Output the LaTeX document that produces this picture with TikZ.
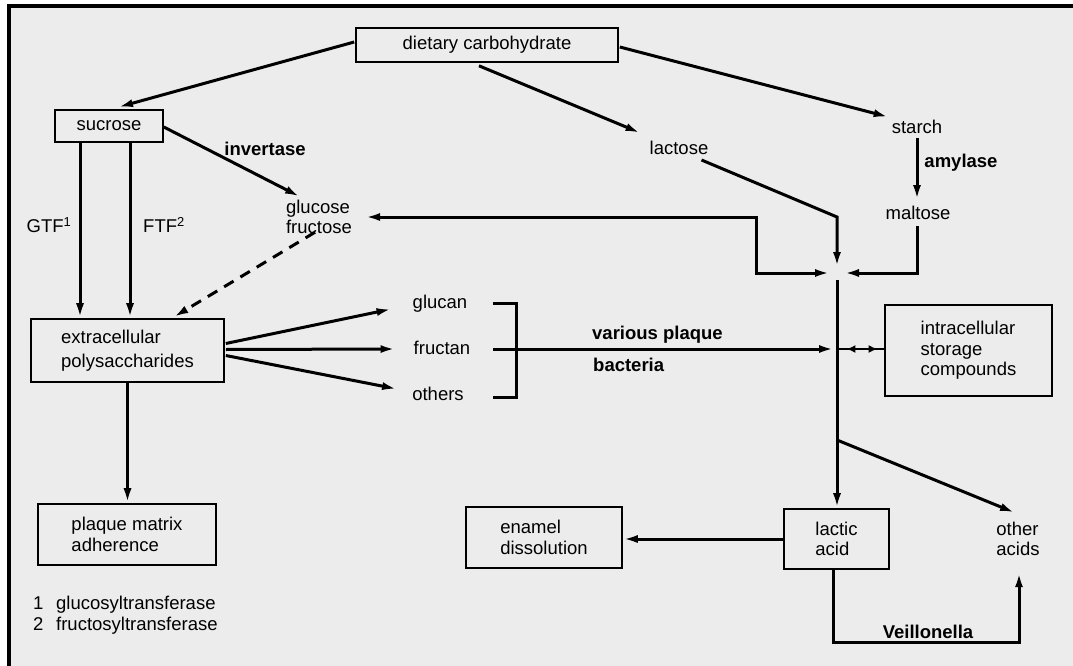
\documentclass[tikz,border=0pt]{standalone}
\usepackage{fontspec}
\setmainfont{Liberation Sans}
\usetikzlibrary{arrows.meta,calc,decorations.markings}
\definecolor{paper}{HTML}{ECECEC}
\begin{document}
\begin{tikzpicture}[x=1pt,y=-1pt,
  every node/.style={font=\fontsize{18.5}{20.5}\selectfont},
  box/.style={draw, line width=1.6pt, align=left, inner sep=0pt},
  lbl/.style={inner sep=1pt, align=left},
  enz/.style={inner sep=1pt, font=\fontsize{18.5}{20.5}\selectfont\bfseries},
  arr/.style={line width=3pt, -{Latex[length=15pt,width=8pt]}},
  arrtwo/.style={line width=3pt, {Latex[length=15pt,width=8pt]}-{Latex[length=15pt,width=8pt]}},
  brk/.style={line width=3pt, line join=miter},
  rev/.style={line width=2.6pt, postaction={decorate}, decoration={markings,
    mark=at position 0.20 with {\arrowreversed{Latex[length=9pt,width=8pt]}},
    mark=at position 0.86 with {\arrow{Latex[length=9pt,width=8pt]}}}}]

% sheet and frame
\useasboundingbox (0,0) rectangle (1073,666);
\fill[white] (0,0) rectangle (1073,666);
\fill[paper] (9,6) rectangle (1073,666);
\draw[line width=3.2pt] (9,666) -- (9,6) -- (1073,6);

% nodes
\node[box, minimum width=262pt, minimum height=34pt] (diet) at (487,45) {dietary carbohydrate};
\node[box, minimum width=108pt, minimum height=32pt] (sucrose) at (109,126) {sucrose};
\node[lbl] (lactose) at (679,148) {lactose};
\node[lbl] (starch) at (917,127) {starch};
\node[lbl] (maltose) at (918,213) {maltose};
\node[lbl] (glucose) at (319,217) {glucose\\fructose};
\node[enz] (invertase) at (265,149) {invertase};
\node[enz] (amylase) at (961,163) {amylase};
\node[lbl] (gtf) at (49,225) {GTF\textsuperscript{1}};
\node[lbl] (ftf) at (164,225) {FTF\textsuperscript{2}};
\node[box, minimum width=193pt, minimum height=63pt] (ep) at (127.5,350.5) {extracellular\\[3pt]polysaccharides};
\node[lbl] (glucan) at (440,304) {glucan};
\node[lbl] (fructan) at (442,348) {fructan};
\node[lbl] (others) at (438,394) {others};
\node[enz, anchor=west] (various) at (591,335) {various plaque};
\node[enz, anchor=west] (bacteria) at (592,365) {bacteria};
\node[box, minimum width=167pt, minimum height=91pt] (isc) at (968.5,350.5) {intracellular\\storage\\compounds};
\node[box, minimum width=178pt, minimum height=61pt] (plaque) at (127,534.5) {plaque matrix\\adherence};
\node[box, minimum width=156pt, minimum height=61pt] (enamel) at (544,537.5) {enamel\\dissolution};
\node[box, minimum width=105pt, minimum height=60pt] (lactic) at (836.5,539) {lactic\\acid};
\node[lbl] (otheracids) at (1018,539) {other\\acids};
\node[enz] (veillonella) at (928,632) {Veillonella};
\node[lbl, anchor=west] (notes) at (32,615) {\makebox[23pt][l]{1}glucosyltransferase\\\makebox[23pt][l]{2}fructosyltransferase};

% junction points
\coordinate (J) at (837,273);
\coordinate (F) at (837,349);
\coordinate (B) at (837,440);
\coordinate (gbend) at (756,273);
\coordinate (gx) at (80,0);
\coordinate (fx) at (130,0);
\coordinate (V1) at (833,642);
\coordinate (V2) at (1019,642);

% dietary carbohydrate splits
\draw[arr] ($(diet.west)+(-1,-3)$) -- ($(sucrose.north)+(9,-2)$);
\draw[arr] ($(diet.south)+(-8,3)$) -- ($(lactose.north west)+(-8,-7)$);
\draw[arr] ($(diet.east)+(1,2)$) -- ($(starch.north west)+(-2,-2)$);

% sucrose pathways
\draw[arr] (sucrose.south -| gx) -- (ep.north -| gx);
\draw[arr] (sucrose.south -| fx) -- (ep.north -| fx);
\draw[arr] ($(sucrose.east)+(0,1)$) -- ($(glucose.north)+(-19,-2)$);
\draw[arr, dash pattern=on 11pt off 8pt] ($(glucose.south)+(-4,-3)$) -- ($(ep.north)+(46,-1)$);

% starch and lactose to the junction
\draw[arr] ($(starch.south)+(0,3)$) -- ($(starch.south |- maltose.north)+(0,-5)$);
\draw[arr] ($(starch.south |- maltose.south)+(0,5)$) -- (starch.south |- J) -- ($(J)+(7,0)$);
\draw[arr] ($(lactose.south east)+(-8,4)$) -- ($(J)+(0,-56)$) -- ($(J)+(0,-6)$);
\draw[arrtwo] ($(glucose.east)+(12,0)$) -- (gbend |- glucose.east) -- (gbend) -- ($(J)+(-7,0)$);

% polysaccharides
\draw[arr] ($(ep.east)+(1,-7)$) -- ($(glucan.west)+(-20,5)$);
\draw[arr] ($(ep.east)+(1,-1)$) -- ($(fructan.west)+(-17,1)$);
\draw[arr] ($(ep.east)+(1,5)$) -- ($(others.west)+(-14,-5)$);
\draw[arr] (ep.south) -- (ep.south |- plaque.north);
\draw[brk] (493,303) -- (516,303) -- (516,397) -- (493,397);
\draw[arr] ($(fructan.east)+(22,1)$) -- ($(F)+(-3,0)$);
\draw[rev] (F) -- (isc.west |- F);

% acids
\draw[arr] ($(J)+(0,7)$) -- (J |- lactic.north);
\draw[arr] (B) -- ($(otheracids.north)+(-3,-8)$);
\draw[arr] (lactic.west) -- (enamel.east |- lactic.west);
\draw[arr] (lactic.south -| V1) -- (V1) -- (V2) -- ($(otheracids.south)+(1,15)$);
\end{tikzpicture}
\end{document}
